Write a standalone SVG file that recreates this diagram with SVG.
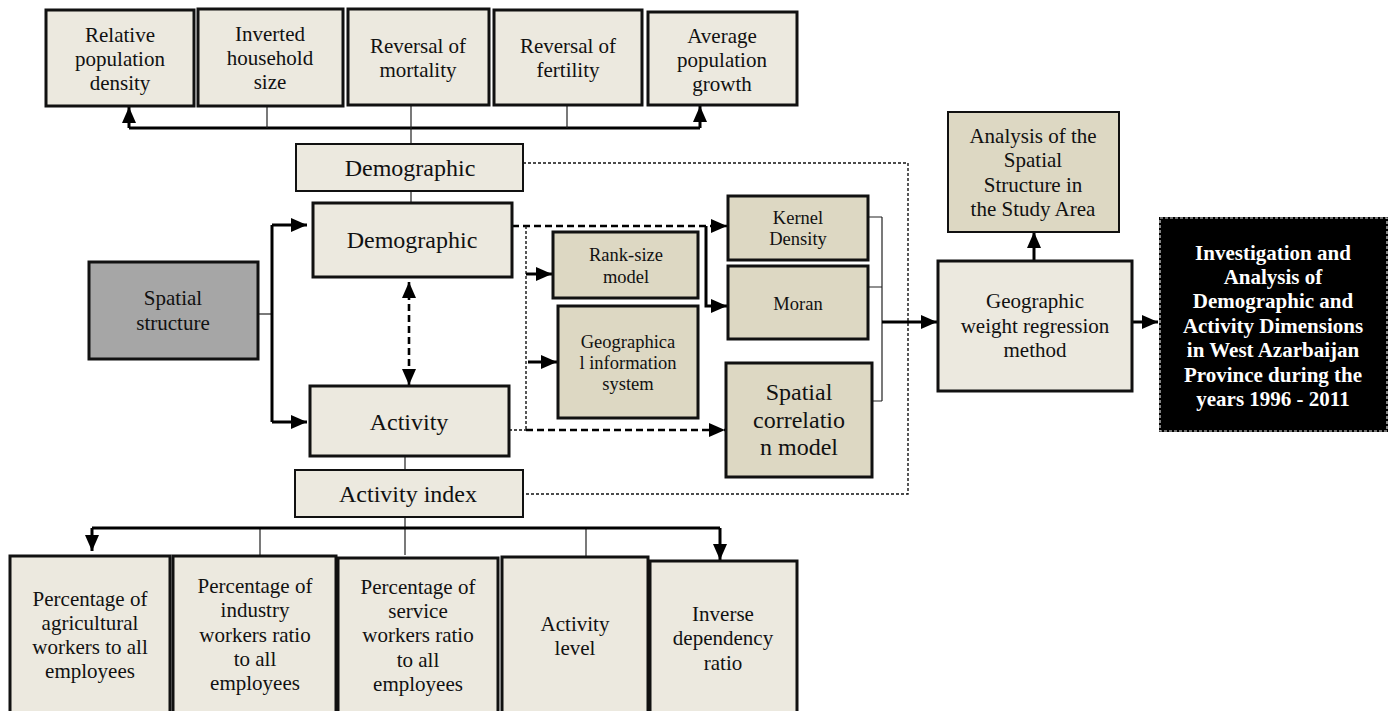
<svg xmlns="http://www.w3.org/2000/svg" width="1389" height="711" viewBox="0 0 1389 711">
<style>
  text { font-family: "Liberation Serif", "Times New Roman", serif; fill: #111; text-anchor: middle; }
  .f21 { font-size: 21px; }
  .f24 { font-size: 24px; }
  .f18 { font-size: 18.5px; }
  .light { fill: #ECE9DF; stroke: #111; stroke-width: 3; }
  .lightthin { fill: #ECE9DF; stroke: #111; stroke-width: 2; }
  .dark { fill: #DDD8C3; stroke: #111; stroke-width: 3; }
  .darkthin { fill: #DDD8C3; stroke: #111; stroke-width: 2; }
  .gray { fill: #A6A6A6; stroke: #111; stroke-width: 3; }
  .thick { fill: none; stroke: #000; stroke-width: 3; }
  .thin { fill: none; stroke: #222; stroke-width: 1.2; }
  .dash { fill: none; stroke: #000; stroke-width: 2.6; stroke-dasharray: 7 4; }
  .dot { fill: none; stroke: #111; stroke-width: 1.4; stroke-dasharray: 3 2; }
  .white { fill: #fff; font-weight: bold; }
</style>
<defs>
  <marker id="arr" markerUnits="userSpaceOnUse" markerWidth="16" markerHeight="14" viewBox="0 0 16 14" refX="16" refY="7" orient="auto-start-reverse">
    <path d="M0,0 L16,7 L0,14 z" fill="#000"/>
  </marker>
</defs>

<g id="connectors">
  <path class="thick" d="M129,128 H700"/>
  <path class="thick" d="M129,128 V107" marker-end="url(#arr)"/>
  <path class="thick" d="M700,128 V106" marker-end="url(#arr)"/>
  <path class="thin" d="M267,107 V128 M411,105 V144 M567,105 V128 M411,191 V203"/>
  <path class="thin" d="M258,314 H272"/>
  <path class="thick" d="M272,225 V422"/>
  <path class="thick" d="M272,225 H307" marker-end="url(#arr)"/>
  <path class="thick" d="M272,422 H307" marker-end="url(#arr)"/>
  <path class="dash" d="M409,282 V385" marker-start="url(#arr)" marker-end="url(#arr)"/>
  <path class="dash" d="M512,226 H727" marker-end="url(#arr)"/>
  <path class="thick" d="M706,226 V306 H727" marker-end="url(#arr)"/>
  <path class="dot" d="M526,226 V430"/>
  <path class="thick" d="M526,274 H552" marker-end="url(#arr)"/>
  <path class="thick" d="M528,362 H557" marker-end="url(#arr)"/>
  <path class="dot" d="M509,430 H526"/>
  <path class="dash" d="M526,430 H725" marker-end="url(#arr)"/>
  <path class="dot" d="M523,163 H908 V494 H523"/>
  <path class="thin" d="M868,217 H882 M868,287 H882 M872,401 H882 M882,217 V401"/>
  <path class="thick" d="M882,322 H937" marker-end="url(#arr)"/>
  <path class="thick" d="M1034,261 V232" marker-end="url(#arr)"/>
  <path class="thick" d="M1132,322 H1158" marker-end="url(#arr)"/>
  <path class="thin" d="M405,456 V470 M405,517 V555 M260,528 V556 M586,528 V557"/>
  <path class="thick" d="M92,528 H720"/>
  <path class="thick" d="M92,528 V551" marker-end="url(#arr)"/>
  <path class="thick" d="M720,528 V560" marker-end="url(#arr)"/>
</g>

<g id="top1"><rect class="light" x="46" y="10" width="148" height="96"/>
  <text class="f21"><tspan x="120" y="42">Relative</tspan><tspan x="120" y="66">population</tspan><tspan x="120" y="90">density</tspan></text></g>
<g id="top2"><rect class="light" x="198" y="9" width="145" height="97"/>
  <text class="f21"><tspan x="270" y="41">Inverted</tspan><tspan x="270" y="65">household</tspan><tspan x="270" y="89">size</tspan></text></g>
<g id="top3"><rect class="light" x="348" y="9" width="141" height="96"/>
  <text class="f21"><tspan x="418" y="53">Reversal of</tspan><tspan x="418" y="77">mortality</tspan></text></g>
<g id="top4"><rect class="light" x="494" y="10" width="148" height="95"/>
  <text class="f21"><tspan x="568" y="53">Reversal of</tspan><tspan x="568" y="77">fertility</tspan></text></g>
<g id="top5"><rect class="light" x="648" y="12" width="149" height="93"/>
  <text class="f21"><tspan x="722" y="43">Average</tspan><tspan x="722" y="67">population</tspan><tspan x="722" y="91">growth</tspan></text></g>

<g id="demo-header"><rect class="lightthin" x="296" y="144" width="227" height="47"/>
  <text class="f24" x="410" y="176">Demographic</text></g>
<g id="demographic"><rect class="light" x="313" y="203" width="199" height="74"/>
  <text class="f24" x="412" y="248">Demographic</text></g>
<g id="spatial-structure"><rect class="gray" x="89" y="262" width="169" height="97"/>
  <text class="f21"><tspan x="173" y="305">Spatial</tspan><tspan x="173" y="330">structure</tspan></text></g>
<g id="activity"><rect class="light" x="310" y="386" width="199" height="70"/>
  <text class="f24" x="409" y="430">Activity</text></g>
<g id="activity-index"><rect class="lightthin" x="295" y="470" width="228" height="47"/>
  <text class="f24" x="408" y="502">Activity index</text></g>

<g id="rank-size"><rect class="dark" x="553" y="232" width="145" height="66"/>
  <text class="f18"><tspan x="626" y="261">Rank-size</tspan><tspan x="626" y="283">model</tspan></text></g>
<g id="gis"><rect class="dark" x="558" y="306" width="140" height="112"/>
  <text class="f18"><tspan x="628" y="348">Geographica</tspan><tspan x="628" y="369">l information</tspan><tspan x="628" y="390">system</tspan></text></g>
<g id="kernel"><rect class="dark" x="728" y="196" width="140" height="64"/>
  <text class="f18"><tspan x="798" y="224">Kernel</tspan><tspan x="798" y="245">Density</tspan></text></g>
<g id="moran"><rect class="dark" x="728" y="266" width="140" height="73"/>
  <text class="f18" x="798" y="310">Moran</text></g>
<g id="spatial-corr"><rect class="dark" x="726" y="363" width="146" height="114"/>
  <text class="f24"><tspan x="799" y="400">Spatial</tspan><tspan x="799" y="428">correlatio</tspan><tspan x="799" y="455">n model</tspan></text></g>

<g id="gwr"><rect class="light" x="938" y="261" width="194" height="130"/>
  <text class="f21"><tspan x="1035" y="308">Geographic</tspan><tspan x="1035" y="333">weight regression</tspan><tspan x="1035" y="357">method</tspan></text></g>
<g id="analysis"><rect class="darkthin" x="948" y="112" width="171" height="120"/>
  <text class="f21"><tspan x="1033" y="143">Analysis of the</tspan><tspan x="1033" y="167">Spatial</tspan><tspan x="1033" y="192">Structure in</tspan><tspan x="1033" y="216">the Study Area</tspan></text></g>
<g id="result"><rect x="1159" y="217" width="229" height="215" fill="#000"/>
  <rect x="1160" y="218" width="227" height="213" fill="none" stroke="#ddd" stroke-width="1.2" stroke-dasharray="3 2"/>
  <text class="f21 white"><tspan x="1273" y="260">Investigation and</tspan><tspan x="1273" y="284">Analysis of</tspan><tspan x="1273" y="308">Demographic and</tspan><tspan x="1273" y="333">Activity Dimensions</tspan><tspan x="1273" y="357">in West Azarbaijan</tspan><tspan x="1273" y="382">Province during the</tspan><tspan x="1273" y="406">years 1996 - 2011</tspan></text></g>

<g id="bottom1"><rect class="light" x="10" y="556" width="160" height="170"/>
  <text class="f21"><tspan x="90" y="606">Percentage of</tspan><tspan x="90" y="630">agricultural</tspan><tspan x="90" y="654">workers to all</tspan><tspan x="90" y="678">employees</tspan></text></g>
<g id="bottom2"><rect class="light" x="173" y="556" width="163" height="170"/>
  <text class="f21"><tspan x="255" y="593">Percentage of</tspan><tspan x="255" y="617">industry</tspan><tspan x="255" y="642">workers ratio</tspan><tspan x="255" y="666">to all</tspan><tspan x="255" y="690">employees</tspan></text></g>
<g id="bottom3"><rect class="light" x="338" y="558" width="160" height="170"/>
  <text class="f21"><tspan x="418" y="594">Percentage of</tspan><tspan x="418" y="618">service</tspan><tspan x="418" y="642">workers ratio</tspan><tspan x="418" y="667">to all</tspan><tspan x="418" y="691">employees</tspan></text></g>
<g id="bottom4"><rect class="light" x="502" y="557" width="146" height="170"/>
  <text class="f21"><tspan x="575" y="631">Activity</tspan><tspan x="575" y="655">level</tspan></text></g>
<g id="bottom5"><rect class="light" x="650" y="561" width="147" height="170"/>
  <text class="f21"><tspan x="723" y="621">Inverse</tspan><tspan x="723" y="645">dependency</tspan><tspan x="723" y="670">ratio</tspan></text></g>
</svg>
